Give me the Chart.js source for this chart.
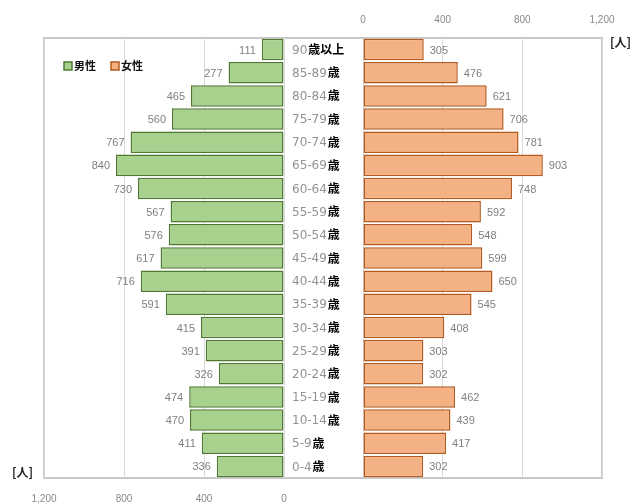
<!DOCTYPE html>
<html>
<head>
<meta charset="utf-8">
<script src="https://cdn.jsdelivr.net/npm/chart.js@4.4.0/dist/chart.umd.min.js"></script>
<style>
    html, body { margin: 0; padding: 0; background: #fff; }
    #wrap { position: relative; width: 640px; height: 504px; overflow: hidden; }
    #frame {
        position: absolute; left: 43px; top: 37px; width: 560px; height: 442px;
        border: 2px solid #c8c8c8; box-sizing: border-box;
    }
    #male-chart { position: absolute; left: 0; top: 0; }
    #female-chart { position: absolute; left: 284px; top: 0; }
    .unit {
        position: absolute; font-family: "Noto Sans CJK JP", sans-serif;
        font-size: 12px; font-weight: bold; color: #222;
    }
</style>
</head>
<body>
<div id="wrap">
    <div id="frame"></div>
    <canvas id="male-chart" width="290" height="504"></canvas>
    <canvas id="female-chart" width="356" height="504"></canvas>
    <div class="unit" style="left:610px; top:33px;">[人]</div>
    <div class="unit" style="left:12px; top:463px;">[人]</div>
</div>
<script>
// age groups, oldest first (top of the pyramid)
const ageGroups = ['90歳以上', '85-89歳', '80-84歳', '75-79歳', '70-74歳', '65-69歳', '60-64歳',
    '55-59歳', '50-54歳', '45-49歳', '40-44歳', '35-39歳', '30-34歳', '25-29歳', '20-24歳',
    '15-19歳', '10-14歳', '5-9歳', '0-4歳'];
const maleValues = [111, 277, 465, 560, 767, 840, 730, 567, 576, 617, 716, 591, 415, 391, 326, 474, 470, 411, 336];
const femaleValues = [305, 476, 621, 706, 781, 903, 748, 592, 548, 599, 650, 545, 408, 303, 302, 462, 439, 417, 302];
const axisMax = 1200;
const axisStep = 400;

const tickFont = { family: '"Liberation Sans", sans-serif', size: 10 };
const tickColor = '#8a8a8a';
const gridColor = '#d9d9d9';

// value labels at the end of each bar
const valueLabels = {
    id: 'valueLabels',
    afterDatasetsDraw(chart, args, opts) {
        const ctx = chart.ctx;
        const meta = chart.getDatasetMeta(0);
        const data = chart.data.datasets[0].data;
        ctx.save();
        ctx.font = '11px "Liberation Sans", sans-serif';
        ctx.fillStyle = '#808080';
        ctx.textBaseline = 'middle';
        ctx.textAlign = opts.side === 'left' ? 'right' : 'left';
        meta.data.forEach((bar, i) => {
            const x = opts.side === 'left' ? bar.x - 6 : bar.x + 6;
            ctx.fillText(String(data[i]), x, bar.y + 1);
        });
        ctx.restore();
    }
};

// legend drawn inside the plot area of the male chart
const innerLegend = {
    id: 'innerLegend',
    afterDraw(chart) {
        const ctx = chart.ctx;
        const items = chart.options.plugins.innerLegend.items;
        let x = 64;
        const y = 66;
        ctx.save();
        ctx.font = 'bold 11px "Noto Sans CJK JP", sans-serif';
        ctx.textBaseline = 'middle';
        items.forEach(item => {
            ctx.fillStyle = item.fill;
            ctx.strokeStyle = item.stroke;
            ctx.lineWidth = 1.5;
            ctx.fillRect(x, y - 4, 8, 8);
            ctx.strokeRect(x, y - 4, 8, 8);
            ctx.fillStyle = '#111';
            ctx.fillText(item.text, x + 10, y);
            x += 10 + ctx.measureText(item.text).width + 15;
        });
        ctx.restore();
    }
};

// age group labels in the gap between the two halves
const ageLabels = {
    id: 'ageLabels',
    afterDraw(chart) {
        const ctx = chart.ctx;
        const meta = chart.getDatasetMeta(0);
        ctx.save();
        ctx.textBaseline = 'middle';
        ctx.textAlign = 'left';
        meta.data.forEach((bar, i) => {
            const label = chart.data.labels[i];
            const cut = label.indexOf('歳');
            const num = label.slice(0, cut);
            const rest = label.slice(cut);
            let x = 8;
            ctx.font = '12px "DejaVu Sans", sans-serif';
            ctx.fillStyle = '#939393';
            ctx.fillText(num, x, bar.y + 1);
            x += ctx.measureText(num).width + 1;
            ctx.font = 'bold 12px "Noto Sans CJK JP", sans-serif';
            ctx.fillStyle = '#000';
            ctx.fillText(rest, x, bar.y);
        });
        ctx.restore();
    }
};

function xAxis(opts, padding, height) {
    return Object.assign({
        min: 0,
        max: axisMax,
        grid: { color: gridColor, drawTicks: false },
        border: { display: false },
        ticks: {
            stepSize: axisStep,
            padding: padding,
            color: tickColor,
            font: tickFont,
            callback: v => v.toLocaleString('en-US')
        },
        afterFit: s => {
            s.height = height;
            // keep the plot edges where the layout padding puts them
            s.paddingLeft = 0;
            s.paddingRight = 0;
        }
    }, opts);
}

new Chart(document.getElementById('male-chart'), {
    type: 'bar',
    data: {
        labels: ageGroups,
        datasets: [{
            label: '男性',
            data: maleValues,
            backgroundColor: '#a9d18e',
            borderColor: '#4e7a30',
            borderWidth: 1.5,
            borderSkipped: false,
            barPercentage: 1,
            categoryPercentage: 0.93
        }]
    },
    options: {
        indexAxis: 'y',
        responsive: false,
        animation: false,
        layout: { padding: { left: 44, right: 6, top: 38, bottom: 0 } },
        plugins: {
            legend: { display: false },
            tooltip: { enabled: false },
            valueLabels: { side: 'left' },
            innerLegend: {
                items: [
                    { text: '男性', fill: '#a9d18e', stroke: '#4e7a30' },
                    { text: '女性', fill: '#f4b183', stroke: '#b45a1e' }
                ]
            }
        },
        scales: {
            x: xAxis({ reverse: true, position: 'bottom' }, 15, 26),
            y: { display: false }
        }
    },
    plugins: [valueLabels, innerLegend]
});

new Chart(document.getElementById('female-chart'), {
    type: 'bar',
    data: {
        labels: ageGroups,
        datasets: [{
            label: '女性',
            data: femaleValues,
            backgroundColor: '#f4b183',
            borderColor: '#b45a1e',
            borderWidth: 1.5,
            borderSkipped: false,
            barPercentage: 1,
            categoryPercentage: 0.93
        }]
    },
    options: {
        indexAxis: 'y',
        responsive: false,
        animation: false,
        layout: { padding: { left: 79, right: 38, top: 0, bottom: 26 } },
        plugins: {
            legend: { display: false },
            tooltip: { enabled: false },
            valueLabels: { side: 'right' }
        },
        scales: {
            x: xAxis({ position: 'top' }, 12, 38),
            y: { display: false }
        }
    },
    plugins: [valueLabels, ageLabels]
});
</script>
</body>
</html>
